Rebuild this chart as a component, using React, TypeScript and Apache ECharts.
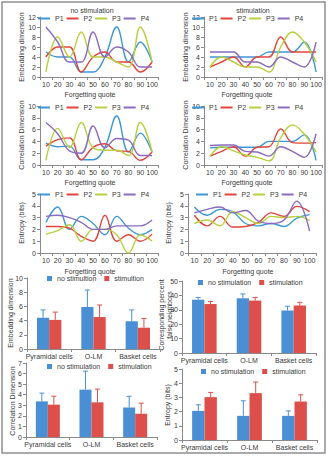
import React, { useEffect, useRef } from 'react';
import * as echarts from 'echarts';

// ---- data ----
const FORGETTING = ['10', '20', '30', '40', '50', '60', '70', '80', '90', '100'];
const PROBES = ['P1', 'P2', 'P3', 'P4'];

const EMBED_NO_STIM = [
  [5, 4, 4, 1, 1, 4, 10, 3, 7, 3],
  [4, 6, 6, 1, 4, 5, 3, 3, 1, 3],
  [1, 8, 4, 9, 4, 4, 3, 2, 10, 3],
  [10, 7, 3, 3, 9, 4, 6, 5, 2, 2],
];
const EMBED_STIM = [
  [4, 4, 4, 4, 4, 5, 5, 5, 7, 1],
  [2, 3, 4, 2, 4, 4, 8, 5, 5, 5],
  [2, 4, 3, 2, 2, 1, 6, 9, 7, 3],
  [5, 5, 5, 3, 3, 2, 4, 3, 2, 7],
];
const CORR_NO_STIM = [
  [3.7, 3.1, 3.2, 0.9, 0.9, 3.0, 8.3, 2.2, 5.4, 2.2],
  [3.2, 4.3, 4.6, 0.9, 3.0, 3.6, 2.4, 2.3, 0.8, 2.2],
  [0.8, 6.2, 3.0, 7.2, 2.9, 2.5, 2.5, 1.6, 7.2, 2.2],
  [7.2, 5.3, 2.4, 2.0, 6.6, 2.9, 4.5, 4.2, 1.6, 1.6],
];
const CORR_STIM = [
  [2.9, 3.0, 3.0, 3.0, 3.0, 4.0, 4.0, 4.0, 5.1, 0.8],
  [1.5, 2.3, 3.1, 1.5, 3.0, 3.1, 6.1, 3.8, 3.7, 3.8],
  [1.5, 3.1, 2.4, 1.7, 1.3, 0.7, 4.6, 6.8, 5.2, 2.2],
  [3.3, 3.4, 3.4, 2.3, 2.2, 1.5, 3.1, 2.3, 1.3, 5.3],
];
const ENTROPY_NO_STIM = [
  [2.6, 3.9, 2.0, 3.1, 2.5, 1.55, 3.1, 2.1, 1.55, 2.0],
  [2.25, 2.25, 2.1, 1.4, 1.0, 3.2, 1.0, 1.55, 1.0, 1.6],
  [1.6, 1.9, 2.4, 1.0, 2.0, 2.0, 1.55, 0, 1.55, 1.0],
  [3.1, 3.2, 3.0, 2.6, 2.0, 2.0, 2.3, 2.3, 2.3, 2.8],
];
const ENTROPY_STIM = [
  [3.9, 3.2, 3.7, 3.5, 2.5, 2.3, 2.5, 2.25, 2.95, 3.25],
  [3.2, 2.3, 3.1, 2.2, 2.25, 2.6, 3.4, 3.1, 3.95, 3.5],
  [2.5, 2.8, 2.3, 3.5, 3.0, 2.5, 3.1, 3.0, 3.1, 2.75],
  [3.4, 3.7, 3.9, 3.4, 3.6, 2.7, 2.5, 2.8, 4.4, 1.85],
];

const CELL_TYPES = ['Pyramidal cells', 'O-LM', 'Basket cells'];

const EMB_MEAN_NO = [4.4, 5.9, 3.9];
const EMB_ERR_NO = [1.1, 2.4, 1.6];
const EMB_MEAN_ST = [4.1, 4.5, 3.0];
const EMB_ERR_ST = [1.1, 1.7, 1.3];

const FNN_MEAN_NO = [37, 38, 29.5];
const FNN_ERR_NO = [1.6, 3, 3];
const FNN_MEAN_ST = [34, 36.4, 33];
const FNN_ERR_ST = [1.7, 2.2, 2.2];

const CORR_MEAN_NO = [3.37, 4.48, 2.8];
const CORR_ERR_NO = [0.78, 1.75, 1.05];
const CORR_MEAN_ST = [3.06, 3.28, 2.2];
const CORR_ERR_ST = [0.8, 1.25, 1.0];

const ENT_MEAN_NO = [2.05, 1.7, 1.7];
const ENT_ERR_NO = [0.43, 1.06, 0.35];
const ENT_MEAN_ST = [3.02, 3.3, 2.71];
const ENT_ERR_ST = [0.33, 0.78, 0.47];

// ---- styling ----
const FONT = '"Liberation Sans", Arial, sans-serif';
const TEXT = '#3a3a3a';
const AXIS = '#8a8a8a';
const PROBE_COLORS = ['#3f97d5', '#e3443b', '#b8cf3e', '#8a6bbf'];
const BLUE = '#4a8fd4';
const RED = '#dc4f4a';
const CAT_GAP = 0.45; // share of a category band left empty around the bar pair

type Box = { left: number; top: number; width: number; height: number };

const LINE_PANELS: { box: Box; yMax: number; step: number; data: number[][]; legend: [number, number] }[] = [
  { box: { left: 40, top: 17, width: 118, height: 60 }, yMax: 12, step: 2, data: EMBED_NO_STIM, legend: [38, 15] },
  { box: { left: 204, top: 17, width: 118, height: 60 }, yMax: 12, step: 2, data: EMBED_STIM, legend: [192, 15] },
  { box: { left: 40, top: 106, width: 118, height: 59 }, yMax: 10, step: 2, data: CORR_NO_STIM, legend: [38, 104] },
  { box: { left: 204, top: 106, width: 118, height: 59 }, yMax: 10, step: 2, data: CORR_STIM, legend: [192, 104] },
  { box: { left: 40, top: 194, width: 118, height: 59 }, yMax: 5, step: 1, data: ENTROPY_NO_STIM, legend: [38, 191] },
  { box: { left: 188, top: 194, width: 128, height: 59 }, yMax: 5, step: 1, data: ENTROPY_STIM, legend: [196, 191] },
];

const BAR_PANELS: {
  box: Box; yMax: number; step: number; names: [string, string];
  no: number[]; noErr: number[]; st: number[]; stErr: number[]; legend: [number, number];
}[] = [
  { box: { left: 27, top: 278, width: 133, height: 71 }, yMax: 10, step: 2, names: ['no stimultion', 'stimultion'],
    no: EMB_MEAN_NO, noErr: EMB_ERR_NO, st: EMB_MEAN_ST, stErr: EMB_ERR_ST, legend: [47, 275] },
  { box: { left: 182, top: 281, width: 134, height: 72 }, yMax: 50, step: 10, names: ['no stimulation', 'stimulation'],
    no: FNN_MEAN_NO, noErr: FNN_ERR_NO, st: FNN_MEAN_ST, stErr: FNN_ERR_ST, legend: [198, 279] },
  { box: { left: 26, top: 363, width: 131, height: 74 }, yMax: 7, step: 1, names: ['no stimulation', 'stimulation'],
    no: CORR_MEAN_NO, noErr: CORR_ERR_NO, st: CORR_MEAN_ST, stErr: CORR_ERR_ST, legend: [47, 363] },
  { box: { left: 182, top: 369, width: 135, height: 71 }, yMax: 5, step: 1, names: ['no stimulation', 'stimulation'],
    no: ENT_MEAN_NO, noErr: ENT_ERR_NO, st: ENT_MEAN_ST, stErr: ENT_ERR_ST, legend: [201, 368] },
];

const TEXTS: { text: string; x: number; y: number; vertical?: boolean }[] = [
  { text: 'no stimulation', x: 92, y: 10 },
  { text: 'stimulation', x: 253, y: 10 },
  { text: 'Forgetting quote', x: 90, y: 94 },
  { text: 'Forgetting quote', x: 247, y: 94 },
  { text: 'Forgetting quote', x: 90, y: 182 },
  { text: 'Forgetting quote', x: 247, y: 182 },
  { text: 'Forgetting quote', x: 90, y: 271 },
  { text: 'Forgetting quote', x: 248, y: 271 },
  { text: 'Embedding dimension', x: 21, y: 47, vertical: true },
  { text: 'Embedding dimension', x: 185, y: 47, vertical: true },
  { text: 'Correlation Dimension', x: 21, y: 135, vertical: true },
  { text: 'Correlation Dimension', x: 185, y: 135, vertical: true },
  { text: 'Entropy (bits)', x: 21, y: 223, vertical: true },
  { text: 'Entropy (bits)', x: 168, y: 223, vertical: true },
  { text: 'Embedding dimension', x: 10, y: 313, vertical: true },
  { text: 'Corresponding percent\nfalse neighbors', x: 165.5, y: 315, vertical: true },
  { text: 'Correlation Dimension', x: 12, y: 401, vertical: true },
  { text: 'Entropy (bits)', x: 167, y: 405, vertical: true },
];

function axisX(i: number, data: string[], margin: number) {
  return {
    type: 'category', gridIndex: i, data, boundaryGap: true,
    axisLine: { lineStyle: { color: AXIS, width: 1 } },
    axisTick: { show: true, length: 3, lineStyle: { color: AXIS } },
    axisLabel: { fontSize: 7, color: TEXT, margin, interval: 0, fontFamily: FONT },
  };
}

function axisY(i: number, max: number, step: number) {
  return {
    type: 'value', gridIndex: i, min: 0, max, interval: step,
    axisLine: { show: true, lineStyle: { color: AXIS, width: 1 } },
    axisTick: { show: true, length: 3, lineStyle: { color: AXIS } },
    splitLine: { show: false },
    axisLabel: { fontSize: 7, color: TEXT, margin: 4, fontFamily: FONT },
  };
}

function errorBars(i: number, means: number[], errs: number[], side: number, color: string) {
  return {
    type: 'custom', xAxisIndex: i, yAxisIndex: i, z: 5,
    data: means.map((m, j) => [j, m, errs[j]]),
    encode: { x: 0, y: 1 },
    renderItem: (_params: any, api: any) => {
      const j = api.value(0);
      const m = api.value(1);
      const e = api.value(2);
      const base = api.coord([j, m]);
      const tip = api.coord([j, m + e]);
      const band = api.size([1, 0])[0];
      const x = base[0] + side * band * (1 - CAT_GAP) / 4;
      const style = { stroke: color, lineWidth: 1 };
      return {
        type: 'group',
        children: [
          { type: 'line', shape: { x1: x, y1: base[1], x2: x, y2: tip[1] }, style },
          { type: 'line', shape: { x1: x - 2.5, y1: tip[1], x2: x + 2.5, y2: tip[1] }, style },
        ],
      };
    },
  };
}

function buildOption() {
  const grid: any[] = [];
  const xAxis: any[] = [];
  const yAxis: any[] = [];
  const series: any[] = [];
  const legend: any[] = [];

  LINE_PANELS.forEach((p) => {
    const i = grid.length;
    grid.push({ ...p.box, containLabel: false });
    xAxis.push(axisX(i, FORGETTING, 4));
    yAxis.push(axisY(i, p.yMax, p.step));
    p.data.forEach((vals, k) => {
      series.push({
        type: 'line', name: PROBES[k], xAxisIndex: i, yAxisIndex: i, data: vals,
        smooth: 0.4, symbol: 'none', showSymbol: false,
        lineStyle: { width: 1.4, color: PROBE_COLORS[k] },
        itemStyle: { color: PROBE_COLORS[k] },
      });
    });
    legend.push({
      data: PROBES, left: p.legend[0], top: p.legend[1], padding: 0, icon: 'rect',
      itemWidth: 12, itemHeight: 2, itemGap: 3,
      textStyle: { fontSize: 7, color: TEXT, fontFamily: FONT },
    });
  });

  BAR_PANELS.forEach((p) => {
    const i = grid.length;
    grid.push({ ...p.box, containLabel: false });
    xAxis.push(axisX(i, CELL_TYPES, 4));
    yAxis.push(axisY(i, p.yMax, p.step));
    const common = { type: 'bar', xAxisIndex: i, yAxisIndex: i, barGap: '0%', barCategoryGap: `${CAT_GAP * 100}%` };
    series.push({ ...common, name: p.names[0], data: p.no, itemStyle: { color: BLUE } });
    series.push({ ...common, name: p.names[1], data: p.st, itemStyle: { color: RED } });
    series.push(errorBars(i, p.no, p.noErr, -1, BLUE));
    series.push(errorBars(i, p.st, p.stErr, 1, RED));
    legend.push({
      data: p.names, left: p.legend[0], top: p.legend[1], padding: 0, icon: 'rect',
      itemWidth: 5, itemHeight: 5, itemGap: 8,
      textStyle: { fontSize: 7, color: TEXT, fontFamily: FONT },
    });
  });

  const graphic: any[] = [
    {
      type: 'rect', shape: { x: 2, y: 2, width: 323, height: 451 },
      style: { fill: 'none', stroke: '#8f8f8f', lineWidth: 1.5 }, silent: true,
    },
    ...TEXTS.map((t) => ({
      type: 'text', x: t.x, y: t.y, rotation: t.vertical ? Math.PI / 2 : 0,
      style: {
        text: t.text, fontSize: 7, fill: TEXT, fontFamily: FONT,
        align: 'center', verticalAlign: 'middle', lineHeight: 8,
      },
    })),
  ];

  return {
    animation: false,
    backgroundColor: '#ffffff',
    textStyle: { fontFamily: FONT },
    grid, xAxis, yAxis, series, legend, graphic,
  };
}

export default function App() {
  const ref = useRef<HTMLDivElement>(null);
  useEffect(() => {
    if (!ref.current) return;
    const chart = echarts.init(ref.current, undefined, { renderer: 'svg' });
    chart.setOption(buildOption() as any);
    return () => chart.dispose();
  }, []);
  return (
    <div
      ref={ref}
      style={{ position: 'fixed', left: 0, top: 0, width: 328, height: 458, background: '#fff' }}
    />
  );
}
